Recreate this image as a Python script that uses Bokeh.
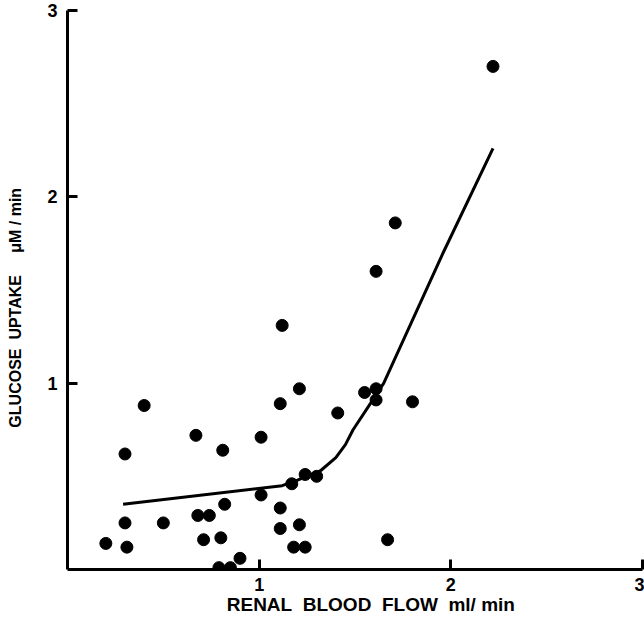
from bokeh.plotting import figure
from bokeh.models import Range1d, FixedTicker
from bokeh.embed import file_html
from bokeh.resources import INLINE

# Renal blood flow (ml/min) and glucose uptake (uM/min) per observation
flow = [0.20, 0.31, 0.30, 0.30, 0.40, 0.50, 0.67, 0.68, 0.74, 0.71,
        0.80, 0.81, 0.82, 0.79, 0.85, 0.90, 1.01, 1.01, 1.11, 1.21,
        1.11, 1.11, 1.21, 1.18, 1.24, 1.17, 1.24, 1.30, 1.61, 1.12,
        1.55, 1.61, 1.61, 1.80, 1.41, 1.67, 2.22, 1.71]
uptake = [0.14, 0.12, 0.25, 0.62, 0.88, 0.25, 0.72, 0.29, 0.29, 0.16,
          0.17, 0.64, 0.35, 0.01, 0.01, 0.06, 0.71, 0.40, 0.89, 0.97,
          0.33, 0.22, 0.24, 0.12, 0.12, 0.46, 0.51, 0.50, 1.60, 1.31,
          0.95, 0.97, 0.91, 0.90, 0.84, 0.16, 2.70, 1.86]

# Fitted curve
fit_x = [0.29, 1.12, 1.20, 1.32, 1.40, 1.45, 1.49, 1.58, 1.65, 1.96, 2.22]
fit_y = [0.35, 0.45, 0.48, 0.53, 0.60, 0.67, 0.75, 0.89, 1.00, 1.70, 2.26]

x_ticks = [1, 2, 3]
y_ticks = [1, 2, 3]

NB = "\u00a0"
x_title = NB * 6 + "RENAL" + NB * 2 + "BLOOD" + NB * 2 + "FLOW" + NB * 2 + "ml/" + NB + "min"
y_title = "GLUCOSE" + NB * 2 + "UPTAKE" + NB * 5 + "\u03bcM" + NB + "/" + NB + "min" + NB * 8

FONT = "Liberation Sans"

p = figure(width=644, height=621, output_backend="svg", toolbar_location=None,
           x_range=Range1d(0, 3), y_range=Range1d(0, 3),
           min_border_left=67, min_border_right=2, min_border_top=10,
           min_border_bottom=52)
p.outline_line_color = None
p.xgrid.visible = False
p.ygrid.visible = False
p.background_fill_color = "white"

for ax, ticks in ((p.xaxis[0], x_ticks), (p.yaxis[0], y_ticks)):
    ax.ticker = FixedTicker(ticks=ticks)
    ax.axis_line_width = 3
    ax.axis_line_color = "black"
    ax.major_tick_in = 10
    ax.major_tick_out = 0
    ax.major_tick_line_width = 3
    ax.major_tick_line_color = "black"
    ax.minor_tick_line_color = None
    ax.major_label_text_font = FONT
    ax.major_label_text_font_style = "bold"
    ax.major_label_text_font_size = "18px"
    ax.major_label_text_color = "black"
    ax.axis_label_text_font = FONT
    ax.axis_label_text_font_style = "bold"
    ax.axis_label_text_color = "black"

p.xaxis.major_label_standoff = 8
p.yaxis.major_label_standoff = 10
p.xaxis.axis_label = x_title
p.xaxis.axis_label_text_font_size = "19px"
p.xaxis.axis_label_standoff = 0
p.yaxis.axis_label = y_title
p.yaxis.axis_label_text_font_size = "16px"
p.yaxis.axis_label_standoff = 20

p.line(fit_x, fit_y, line_width=3, line_color="black")
p.scatter(flow, uptake, size=12, color="black", marker="circle")

open("out.html", "w").write(file_html(p, INLINE))
